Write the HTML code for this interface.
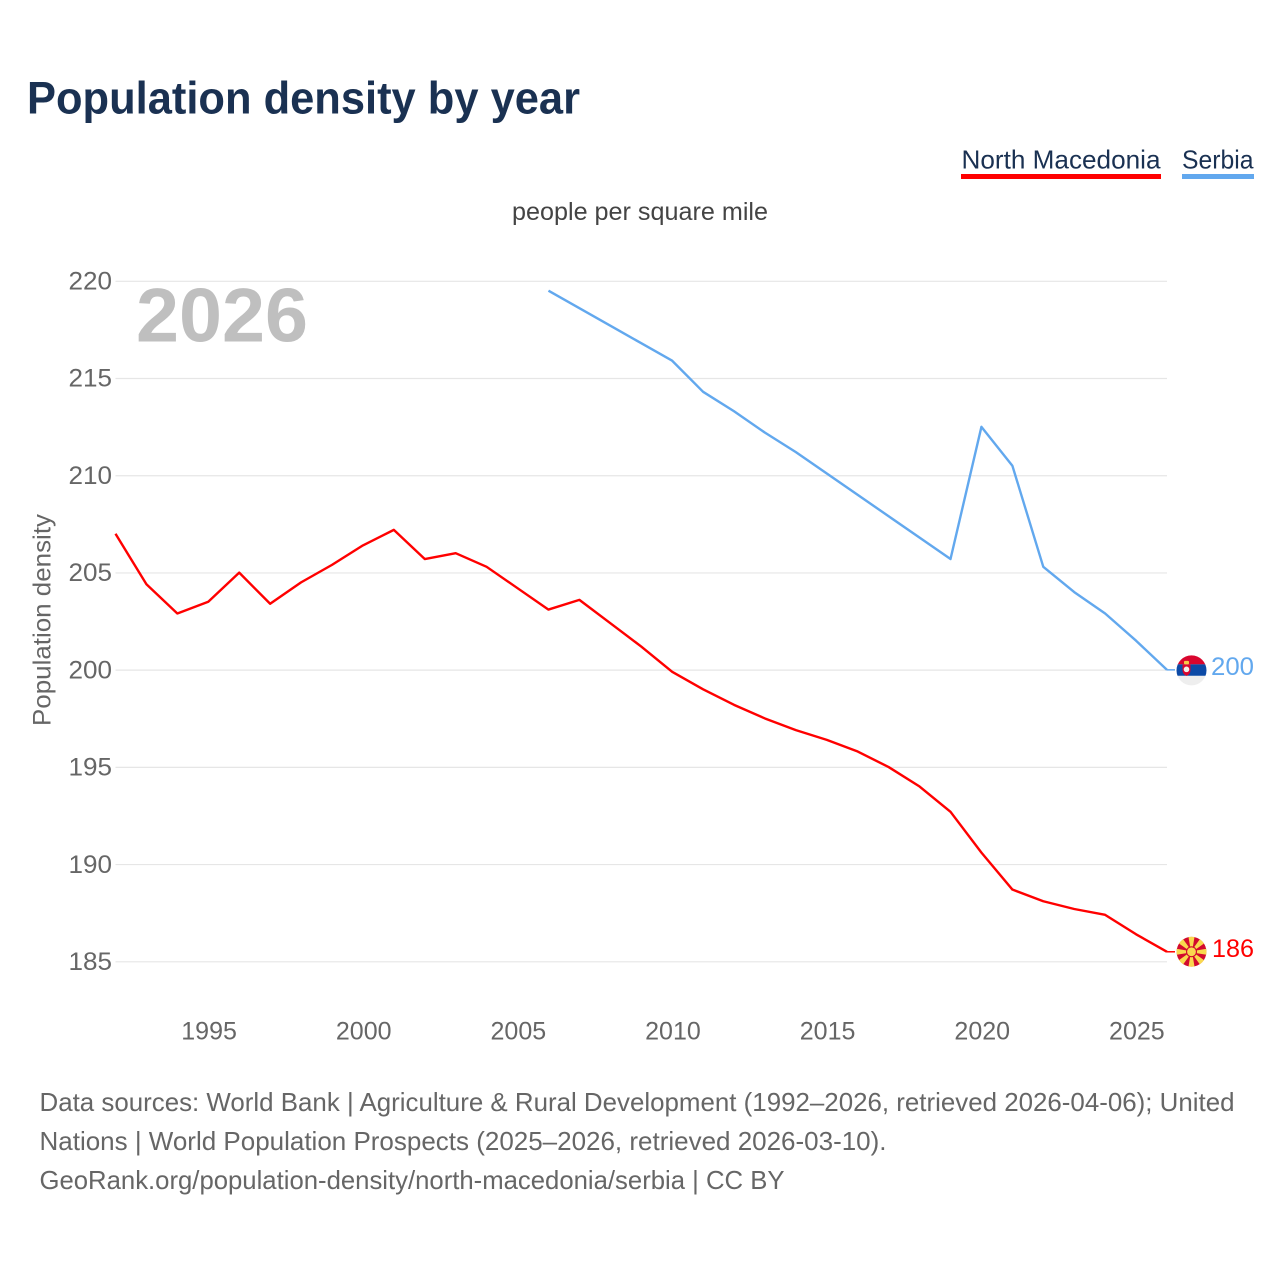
<!DOCTYPE html>
<html lang="en">
<head>
<meta charset="utf-8">
<title>Population density by year</title>
<style>
html,body{margin:0;padding:0;background:#fff;}
svg{display:block;}
text{font-family:"Liberation Sans",sans-serif;}
</style>
</head>
<body>
<svg id="chart" width="1280" height="1280" viewBox="0 0 1280 1280" xmlns="http://www.w3.org/2000/svg">
  <rect width="1280" height="1280" fill="#fff"/>
  <text x="27" y="113.5" font-size="45" font-weight="700" fill="#1a3152" textLength="553" lengthAdjust="spacingAndGlyphs">Population density by year</text>

  <g>
    <text x="961.5" y="168.5" font-size="26" fill="#1a3152" textLength="199" lengthAdjust="spacingAndGlyphs">North Macedonia</text>
    <rect x="961" y="174" width="200" height="5" fill="#ff0000"/>
  </g>
  <g>
    <text x="1182" y="168.5" font-size="26" fill="#1a3152" textLength="71.5" lengthAdjust="spacingAndGlyphs">Serbia</text>
    <rect x="1182" y="174" width="72" height="5" fill="#62a8ee"/>
  </g>

  <text x="512" y="220" font-size="25" fill="#444" textLength="256" lengthAdjust="spacingAndGlyphs">people per square mile</text>
  <text transform="translate(50.5,726) rotate(-90)" font-size="25" fill="#666" textLength="212" lengthAdjust="spacingAndGlyphs">Population density</text>

  <g id="grid"></g>
  <g id="yticks"></g>
  <g id="xticks"></g>

  <text x="136" y="341.5" font-size="76" font-weight="700" fill="#bfbfbf" textLength="172" lengthAdjust="spacingAndGlyphs">2026</text>

  <g id="series"></g>
  <g id="endmarks"></g>

  <g font-size="26" fill="#666">
    <text x="39.5" y="1111" textLength="1195" lengthAdjust="spacingAndGlyphs">Data sources: World Bank | Agriculture &amp; Rural Development (1992–2026, retrieved 2026-04-06); United</text>
    <text x="39.5" y="1150" textLength="847" lengthAdjust="spacingAndGlyphs">Nations | World Population Prospects (2025–2026, retrieved 2026-03-10).</text>
    <text x="39.5" y="1189" textLength="745" lengthAdjust="spacingAndGlyphs">GeoRank.org/population-density/north-macedonia/serbia | CC BY</text>
  </g>
</svg>
<script>
const yTicks = [185, 190, 195, 200, 205, 210, 215, 220];
const xTicks = [1995, 2000, 2005, 2010, 2015, 2020, 2025];
const macedoniaYears = [1992, 1993, 1994, 1995, 1996, 1997, 1998, 1999, 2000, 2001, 2002, 2003, 2004, 2005, 2006, 2007, 2008, 2009, 2010, 2011, 2012, 2013, 2014, 2015, 2016, 2017, 2018, 2019, 2020, 2021, 2022, 2023, 2024, 2025, 2026];
const macedoniaValues = [207.0, 204.4, 202.9, 203.5, 205.0, 203.4, 204.5, 205.4, 206.4, 207.2, 205.7, 206.0, 205.3, 204.2, 203.1, 203.6, 202.4, 201.2, 199.9, 199.0, 198.2, 197.5, 196.9, 196.4, 195.8, 195.0, 194.0, 192.7, 190.6, 188.7, 188.1, 187.7, 187.4, 186.4, 185.5];
const serbiaYears = [2006, 2007, 2008, 2009, 2010, 2011, 2012, 2013, 2014, 2015, 2016, 2017, 2018, 2019, 2020, 2021, 2022, 2023, 2024, 2025, 2026];
const serbiaValues = [219.5, 218.6, 217.7, 216.8, 215.9, 214.3, 213.3, 212.2, 211.2, 210.1, 209.0, 207.9, 206.8, 205.7, 212.5, 210.5, 205.3, 204.0, 202.9, 201.5, 200.0];
const macedoniaLabel = "186";
const serbiaLabel = "200";

const NS = "http://www.w3.org/2000/svg";
const xAxis = year => 115.5 + (year - 1992) * (1167 - 115.5) / 34;
const yAxis = value => 281 + (220 - value) * (961.5 - 281) / 35;

function make(tag, attrs, parent) {
  const el = document.createElementNS(NS, tag);
  for (const k in attrs) el.setAttribute(k, attrs[k]);
  parent.appendChild(el);
  return el;
}
const grid = document.getElementById("grid");
const yG = document.getElementById("yticks");
const xG = document.getElementById("xticks");
const seriesG = document.getElementById("series");
const endG = document.getElementById("endmarks");

yTicks.forEach(v => {
  const ln = make("line", {x1: 115.5, x2: 1167, y1: yAxis(v) + 0.3, y2: yAxis(v) + 0.3, stroke: "#e6e6e6", "stroke-width": 1.2}, grid);
  
  
  const t = make("text", {x: 112, y: yAxis(v) + 8.5, "text-anchor": "end", "font-size": 25, fill: "#666", textLength: 43.5, lengthAdjust: "spacingAndGlyphs"}, yG);
  
  
  t.textContent = v;
});
xTicks.forEach(y => {
  const t = make("text", {x: xAxis(y) + 0.8, y: 1039.5, "text-anchor": "middle", "font-size": 25, fill: "#666"}, xG);
  
  
  t.textContent = y;
});

function linePoints(years, values) {
  return years.map((y, i) => xAxis(y).toFixed(2) + "," + yAxis(values[i]).toFixed(2)).join(" ");
}
const lineMk = make("polyline", {points: linePoints(macedoniaYears, macedoniaValues), fill: "none", stroke: "#ff0000", "stroke-width": 2.4, "stroke-linejoin": "round"}, seriesG);


const lineRs = make("polyline", {points: linePoints(serbiaYears, serbiaValues), fill: "none", stroke: "#62a8ee", "stroke-width": 2.4, "stroke-linejoin": "round"}, seriesG);



const FLAG_X = 1191.5, FLAG_R = 15;

/* North Macedonia end marker */
{
  const lastY = yAxis(macedoniaValues[macedoniaValues.length - 1]);
  const lastX = xAxis(macedoniaYears[macedoniaYears.length - 1]);
  const g = make("g", {}, endG);
  
  
  make("line", {x1: lastX, x2: lastX + 8, y1: lastY, y2: lastY, stroke: "#ff0000", "stroke-width": 1.5}, g);
  const cy = lastY;
  const clip = make("clipPath", {id: "mk-clip"}, g);
  make("circle", {cx: FLAG_X, cy: cy, r: FLAG_R}, clip);
  const flag = make("g", {"clip-path": "url(#mk-clip)"}, g);
  
  
  make("circle", {cx: FLAG_X, cy: cy, r: FLAG_R, fill: "#d20a2e"}, flag);
  for (let a = 0; a < 8; a++) {
    make("path", {d: "M-1.2,-4 L-3.2,-16 L3.2,-16 L1.2,-4 Z", fill: "#f9d84e", transform: `translate(${FLAG_X},${cy}) rotate(${a * 45})`}, flag);
  }
  make("circle", {cx: FLAG_X, cy: cy, r: 5.5, fill: "#d20a2e"}, flag);
  make("circle", {cx: FLAG_X, cy: cy, r: 4.4, fill: "#f9d84e"}, flag);
  const t = make("text", {x: 1254, y: lastY + 5, "text-anchor": "end", "font-size": 25, fill: "#ff0000", textLength: 42, lengthAdjust: "spacingAndGlyphs"}, g);
  
  
  t.textContent = macedoniaLabel;
}

/* Serbia end marker */
{
  const lastY = yAxis(serbiaValues[serbiaValues.length - 1]);
  const lastX = xAxis(serbiaYears[serbiaYears.length - 1]);
  const g = make("g", {}, endG);
  
  
  make("line", {x1: lastX, x2: lastX + 8, y1: lastY, y2: lastY, stroke: "#62a8ee", "stroke-width": 1.5}, g);
  const cy = lastY + 0.5;
  const clip = make("clipPath", {id: "rs-clip"}, g);
  make("circle", {cx: FLAG_X, cy: cy, r: FLAG_R}, clip);
  const flag = make("g", {"clip-path": "url(#rs-clip)"}, g);
  
  
  make("rect", {x: FLAG_X - 16, y: cy - 16, width: 32, height: 10, fill: "#d9062e"}, flag);
  make("rect", {x: FLAG_X - 16, y: cy - 6, width: 32, height: 11.5, fill: "#0c4aa6"}, flag);
  make("rect", {x: FLAG_X - 16, y: cy + 5.5, width: 32, height: 11, fill: "#eeeeee"}, flag);
  make("path", {d: `M${FLAG_X - 9},${cy - 6} h8 v5.5 q0,4.5 -4,6 q-4,-1.5 -4,-6 z`, fill: "#d9062e"}, flag);
  make("circle", {cx: FLAG_X - 5, cy: cy - 1, r: 2.8, fill: "#f4f0ea"}, flag);
  make("rect", {x: FLAG_X - 7.5, y: cy - 9.5, width: 5, height: 3.5, rx: 1, fill: "#f6c945"}, flag);
  const t = make("text", {x: 1254, y: lastY + 5, "text-anchor": "end", "font-size": 25, fill: "#62a8ee", textLength: 43, lengthAdjust: "spacingAndGlyphs"}, g);
  
  
  t.textContent = serbiaLabel;
}
</script>
</body>
</html>
